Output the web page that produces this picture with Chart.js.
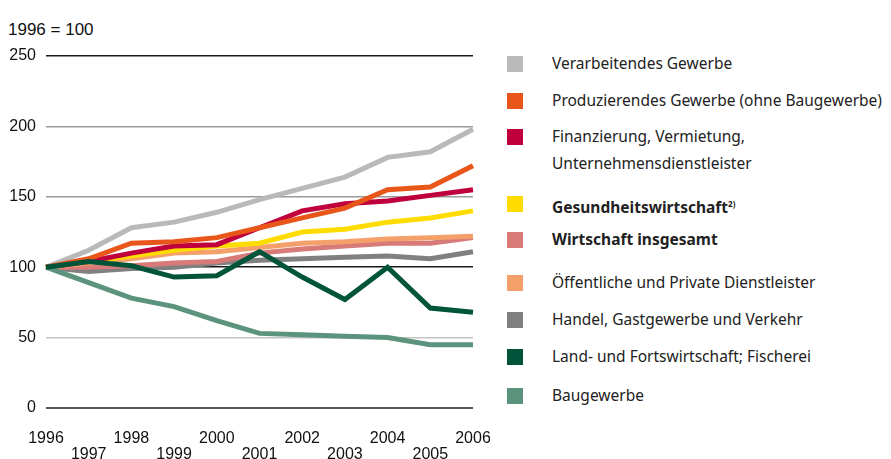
<!DOCTYPE html>
<html>
<head>
<meta charset="utf-8">
<script src="https://cdn.jsdelivr.net/npm/chart.js@4/dist/chart.umd.min.js"></script>
<style>
    body { margin: 0; width: 891px; height: 459px; background: #fff; position: relative; overflow: hidden; font-family: "Liberation Sans", Arial, sans-serif; }
    #base { position: absolute; left: 8px; top: 20px; font-size: 17px; color: #111; }
    #wrap { position: absolute; left: 0; top: 0; width: 490px; height: 459px; }
    #legend { position: absolute; left: 507px; top: 0; font-family: "Noto Sans", sans-serif; font-size: 15.5px; color: #222; }
    .item { position: absolute; left: 0; white-space: nowrap; }
    .box { position: absolute; left: 0; width: 16px; height: 16px; }
    .label { position: absolute; left: 45px; line-height: 27px; }
    .label.bold { font-weight: bold; }
    sup { font-size: 8px; }
</style>
</head>
<body>
<div id="base">1996 = 100</div>
<div id="wrap"><canvas id="chart"></canvas></div>
<div id="legend"></div>

<script>
// Data: index 1996 = 100
const years = ['1996', '1997', '1998', '1999', '2000', '2001', '2002', '2003', '2004', '2005', '2006'];
const yTicks = [0, 50, 100, 150, 200, 250];

const verarbeitendes = [100, 112, 128, 132, 139, 148, 156, 164, 178, 182, 198];
const produzierendes = [100, 106, 117, 118, 121, 128, 135, 142, 155, 157, 172];
const finanzierung   = [100, 104, 110, 115, 116, 128, 140, 145, 147, 151, 155];
const gesundheit     = [100, 104, 108, 112, 115, 117, 125, 127, 132, 135, 140];
const insgesamt      = [100, 100, 101, 103, 104, 110, 113, 115, 117, 117, 121];
const oeffentliche   = [100, 103, 106, 110, 111, 114, 117, 118, 120, 121, 122];
const handel         = [100, 97, 99, 100, 103, 105, 106, 107, 108, 106, 111];
const landwirtschaft = [100, 104, 101, 93, 94, 111, 93, 77, 100, 71, 68];
const baugewerbe     = [100, 89, 78, 72, 62, 53, 52, 51, 50, 45, 45];

const seriesNames = [
    'Verarbeitendes Gewerbe',
    'Produzierendes Gewerbe (ohne Baugewerbe)',
    'Finanzierung, Vermietung,<br>Unternehmensdienstleister',
    'Gesundheitswirtschaft<sup>2)</sup>',
    'Wirtschaft insgesamt',
    'Öffentliche und Private Dienstleister',
    'Handel, Gastgewerbe und Verkehr',
    'Land- und Fortswirtschaft; Fischerei',
    'Baugewerbe'
];
const seriesColors = ['#b9b9b9', '#e8561a', '#bf003c', '#ffdc00', '#d77a78', '#f4a06a', '#808080', '#00543a', '#5c937c'];
const seriesBold = [false, false, false, true, true, false, false, false, false];
const seriesValues = [verarbeitendes, produzierendes, finanzierung, gesundheit, insgesamt, oeffentliche, handel, landwirtschaft, baugewerbe];
// lower order = drawn on top
const seriesOrder = [5, 3, 4, 6, 8, 7, 9, 0, 1];

// Legend (HTML, so bold and superscript stay as text)
const legendTops = [56, 93, 129, 196, 232, 275, 312, 349, 388];
const legendEl = document.getElementById('legend');
seriesNames.forEach((name, i) => {
    const item = document.createElement('div');
    item.className = 'item';
    item.style.top = legendTops[i] + 'px';
    item.innerHTML = `<div class="box" style="background:${seriesColors[i]}"></div>` +
        `<div class="label${seriesBold[i] ? ' bold' : ''}" style="top:-6px">${name}</div>`;
    legendEl.appendChild(item);
});

function gridColor(value) {
    if (value === 250 || value === 100) return '#1a1a1a';
    if (value === 0) return '#555555';
    if (value === 50) return '#c4c4c4';
    return '#9a9a9a';
}

const ctx = document.getElementById('chart').getContext('2d');
new Chart(ctx, {
    type: 'line',
    data: {
        labels: years,
        datasets: seriesValues.map((vals, i) => ({
            label: seriesNames[i],
            data: vals,
            borderColor: seriesColors[i],
            backgroundColor: seriesColors[i],
            borderWidth: 5,
            pointRadius: 0,
            tension: 0,
            order: seriesOrder[i]
        }))
    },
    options: {
        responsive: true,
        maintainAspectRatio: false,
        animation: false,
        layout: { autoPadding: false, padding: { top: 56, right: 17, left: 0, bottom: 0 } },
        plugins: {
            legend: { display: false },
            tooltip: { enabled: false }
        },
        scales: {
            x: {
                offset: false,
                grid: { display: false, drawTicks: false },
                border: { display: false },
                afterFit: scale => {
                    scale.height = 51;
                    scale.paddingLeft = 0;
                    scale.paddingRight = 0;
                },
                ticks: {
                    color: '#111',
                    padding: 23,
                    maxRotation: 0,
                    autoSkip: false,
                    font: { family: 'Liberation Sans', size: 16, lineHeight: 1 },
                    callback: (val, i) => (i % 2 === 0 ? [years[i], ''] : ['', years[i]])
                }
            },
            y: {
                min: 0,
                max: 250,
                afterFit: scale => { scale.width = 46; },
                afterBuildTicks: scale => { scale.ticks = yTicks.map(v => ({ value: v })); },
                grid: {
                    drawTicks: false,
                    lineWidth: ctx => (ctx.tick && ctx.tick.value === 0 ? 2 : 1.5),
                    color: ctx => gridColor(ctx.tick ? ctx.tick.value : -1)
                },
                border: { display: false },
                ticks: {
                    color: '#111',
                    padding: 10,
                    font: { family: 'Liberation Sans', size: 16 }
                }
            }
        }
    }
});
</script>
</body>
</html>
